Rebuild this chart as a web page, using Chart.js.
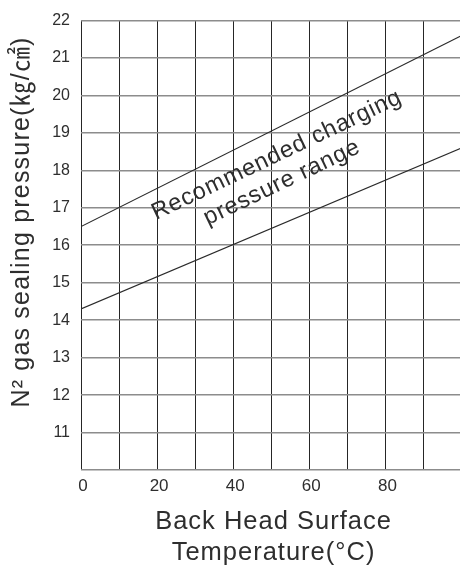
<!DOCTYPE html>
<html>
<head>
<meta charset="utf-8">
<script src="https://cdn.jsdelivr.net/npm/chart.js@4/dist/chart.umd.min.js"></script>
<style>
  html, body { margin: 0; padding: 0; background: #ffffff; }
  canvas { display: block; }
</style>
</head>
<body>
<canvas id="chart" width="460" height="569"></canvas>
<script>
// Back head surface temperature (°C) at the ends of each boundary line
const temperatures = [0, 100];
// Upper and lower limit of the recommended N2 charging pressure (kg/cm²)
const upperPressure = [16.5, 21.6];
const lowerPressure = [14.3, 18.6];

const xTitleLines = ['Back Head Surface', 'Temperature(°C)'];
const yTitle = 'N² gas sealing pressure(㎏/㎠)';
const bandLabel = ['Recommended charging', 'pressure range'];

const FONT = '"Liberation Sans", Arial, "Noto Sans CJK JP", sans-serif';
const TEXT = '#2e2e2e';

const toPoints = (xs, ys) => xs.map((x, i) => ({ x: x, y: ys[i] }));

// Axis titles and the rotated band label
const labelsPlugin = {
  id: 'labels',
  afterDraw(chart) {
    const { ctx, chartArea, scales } = chart;
    ctx.save();
    ctx.fillStyle = TEXT;
    ctx.textAlign = 'center';
    ctx.textBaseline = 'middle';

    // x-axis title, two lines centred under the plot
    ctx.font = '25.5px ' + FONT;
    ctx.letterSpacing = '1px';
    const cx = (chartArea.left + chartArea.right) / 2 + 3;
    ctx.fillText(xTitleLines[0], cx, 522);
    ctx.fillText(xTitleLines[1], cx, 553);

    // y-axis title, rotated
    ctx.save();
    ctx.font = '25px ' + FONT;
    ctx.letterSpacing = '1.2px';
    ctx.translate(22, 222);
    ctx.rotate(-Math.PI / 2);
    ctx.fillText(yTitle, 0, 0);
    ctx.restore();

    // label between the two limit lines
    const px = scales.x.getPixelForValue(51.6);
    const py = scales.y.getPixelForValue(17.94);
    ctx.save();
    ctx.translate(px, py);
    ctx.rotate(-25.5 * Math.PI / 180);
    ctx.font = '23.5px ' + FONT;
    ctx.letterSpacing = '0.9px';
    ctx.fillText(bandLabel[0], 7, -16);
    ctx.fillText(bandLabel[1], 0, 11);
    ctx.restore();

    ctx.restore();
  }
};

new Chart(document.getElementById('chart'), {
  type: 'scatter',
  data: {
    datasets: [
      {
        data: toPoints(temperatures, upperPressure),
        showLine: true,
        borderColor: '#2a2a2a',
        borderWidth: 1.2,
        pointRadius: 0,
        fill: false
      },
      {
        data: toPoints(temperatures, lowerPressure),
        showLine: true,
        borderColor: '#2a2a2a',
        borderWidth: 1.2,
        pointRadius: 0,
        fill: false
      }
    ]
  },
  options: {
    responsive: false,
    animation: false,
    devicePixelRatio: 1,
    layout: { padding: { top: 15, right: 0, left: 0, bottom: 0 } },
    plugins: {
      legend: { display: false },
      tooltip: { enabled: false }
    },
    scales: {
      x: {
        type: 'linear',
        min: 0,
        max: 99.6,
        afterFit(scale) { scale.height = 99; },
        border: { display: false },
        grid: { color: '#262626', lineWidth: 1, drawTicks: false },
        ticks: {
          stepSize: 10,
          includeBounds: false,
          autoSkip: false,
          maxRotation: 0,
          padding: 6,
          labelOffset: 2,
          color: TEXT,
          font: { family: FONT, size: 17 },
          callback: (v) => (v % 20 === 0 ? String(v) : '')
        }
      },
      y: {
        type: 'linear',
        min: 10,
        max: 22,
        afterFit(scale) { scale.width = 81; },
        border: { display: false },
        grid: { color: '#8c8c8c', lineWidth: 1.6, drawTicks: false },
        ticks: {
          stepSize: 1,
          autoSkip: false,
          padding: 11,
          color: TEXT,
          font: { family: FONT, size: 16 },
          callback: (v) => (v === 10 ? '' : String(v))
        }
      }
    }
  },
  plugins: [labelsPlugin]
});
</script>
</body>
</html>
